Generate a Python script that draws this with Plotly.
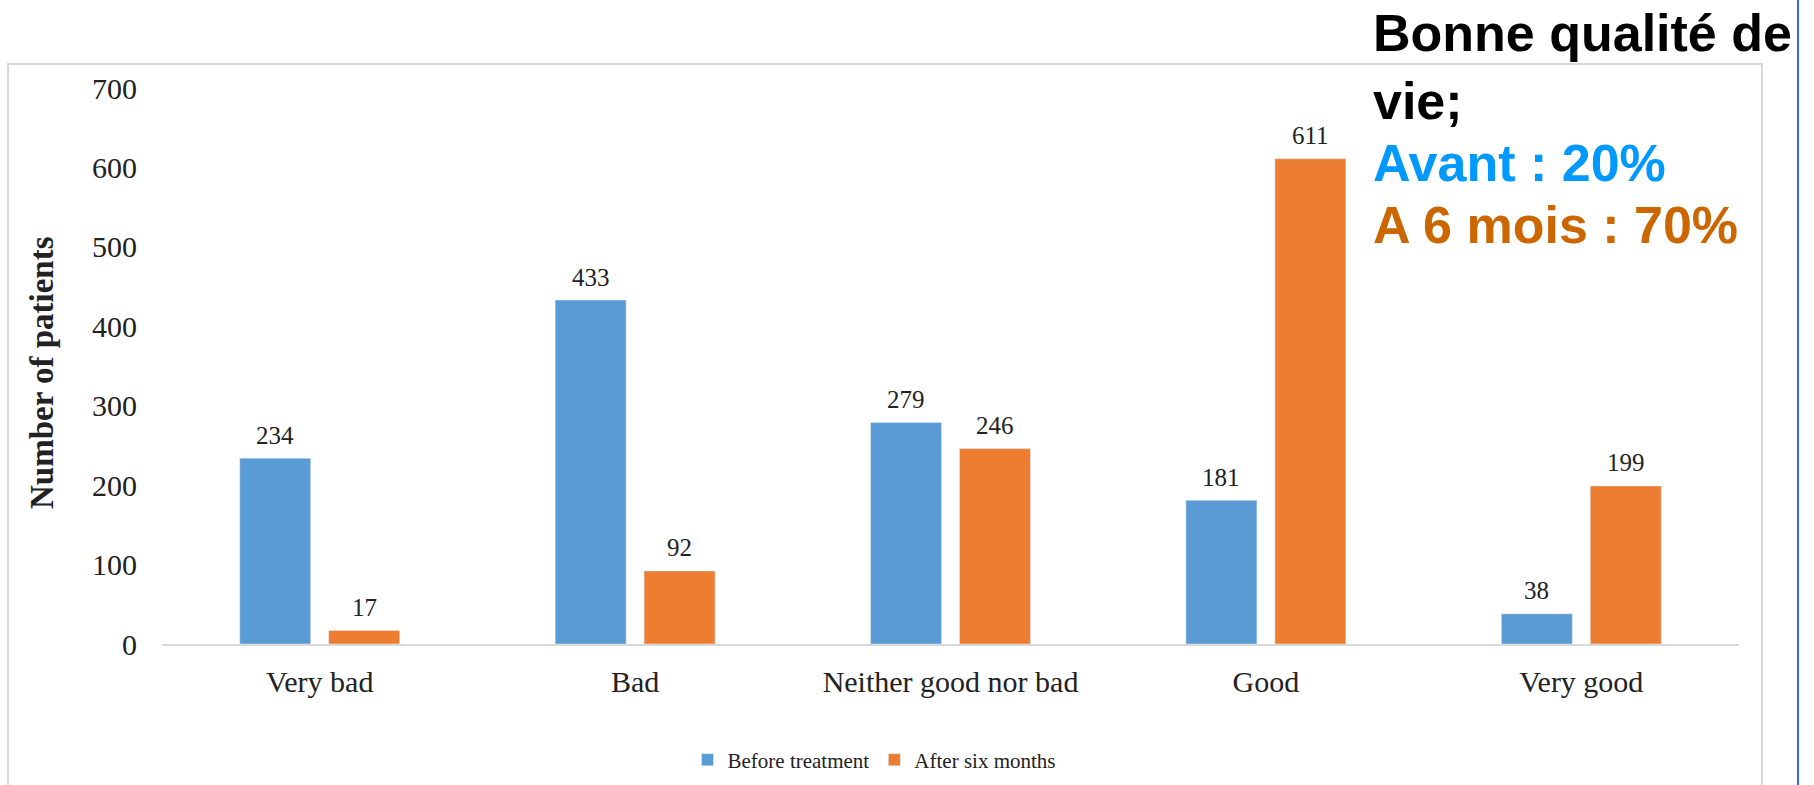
import plotly.graph_objects as go

categories = ["Very bad", "Bad", "Neither good nor bad", "Good", "Very good"]
before = [234, 433, 279, 181, 38]
after = [17, 92, 246, 611, 199]
series_names = ["Before treatment", "After six months"]
y_ticks = [0, 100, 200, 300, 400, 500, 600, 700]

W, H = 1814, 785
L, R, T, B = 162, 75, 88, 141
PW, PH = W - L - R, H - T - B

def px_x(p):
    return (p - L) / PW

def px_y(p):
    return (H - B - p) / PH

BLUE = "#5B9BD5"
ORANGE = "#ED7D31"
SERIF = "Liberation Serif, Times New Roman, serif"
SANS = "Liberation Sans, Arial, sans-serif"

fig = go.Figure()
fig.add_trace(go.Bar(x=categories, y=before, name=series_names[0], marker_color=BLUE))
fig.add_trace(go.Bar(x=categories, y=after, name=series_names[1], marker_color=ORANGE))

annotations = []
for cat, vb, va in zip(categories, before, after):
    annotations.append(dict(x=cat, y=vb, text=str(vb), showarrow=False, xshift=-44.5, yshift=23,
                            yanchor="middle", font=dict(family=SERIF, size=25, color="#222")))
    annotations.append(dict(x=cat, y=va, text=str(va), showarrow=False, xshift=44.5, yshift=23,
                            yanchor="middle", font=dict(family=SERIF, size=25, color="#222")))

# y-axis title
annotations.append(dict(xref="paper", yref="paper", x=px_x(42), y=px_y(373), text="<b>Number of patients</b>",
                        textangle=-90, showarrow=False, xanchor="center", yanchor="middle",
                        font=dict(family=SERIF, size=33, color="#222")))

# side text
side_lines = [("<b>Bonne qualité de</b>", "#000000", 33),
              ("<b>vie;</b>", "#000000", 101),
              ("<b>Avant : 20%</b>", "#0099FF", 163),
              ("<b>A 6 mois : 70%</b>", "#CC6600", 225)]
for txt, col, yc in side_lines:
    annotations.append(dict(xref="paper", yref="paper", x=px_x(1371), y=px_y(yc), text=txt,
                            showarrow=False, xanchor="left", yanchor="middle",
                            font=dict(family=SANS, size=52, color=col)))

shapes = [
    dict(type="rect", xref="paper", yref="paper", x0=px_x(8), x1=px_x(1762), y0=px_y(800), y1=px_y(64),
         line=dict(color="#D9D9D9", width=2), fillcolor="rgba(0,0,0,0)", layer="below"),
    dict(type="line", xref="paper", yref="paper", x0=px_x(1798), x1=px_x(1798), y0=px_y(0), y1=px_y(800),
         line=dict(color="#3A64FF", width=2)),
]

fig.update_layout(
    width=W, height=H,
    margin=dict(l=L, r=R, t=T, b=B, pad=0, autoexpand=False),
    paper_bgcolor="white", plot_bgcolor="white",
    barmode="group", bargap=0.436, bargroupgap=0.202,
    showlegend=True,
    legend=dict(orientation="h", x=px_x(874), y=px_y(760), xanchor="center", yanchor="middle",
                font=dict(family=SERIF, size=21, color="#222"), itemwidth=30, tracegroupgap=0),
    annotations=annotations,
    shapes=shapes,
    xaxis=dict(showline=True, linecolor="#D9D9D9", linewidth=2, showgrid=False, zeroline=False,
               ticks="", tickfont=dict(family=SERIF, size=30, color="#222"), ticklabelstandoff=10),
    yaxis=dict(range=[0, 700], tickvals=y_ticks, showgrid=False, zeroline=False, showline=False,
               ticks="", tickfont=dict(family=SERIF, size=30, color="#222"), ticklabelstandoff=24),
)

fig.write_html("out.html")
